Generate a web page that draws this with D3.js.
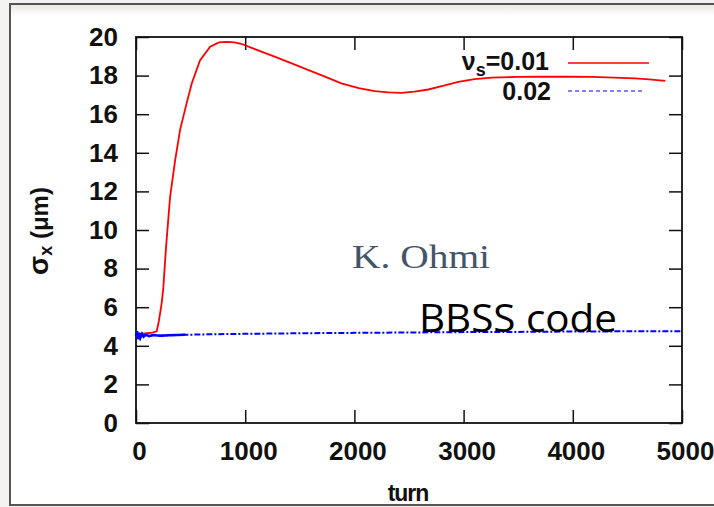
<!DOCTYPE html>
<html>
<head>
<meta charset="utf-8">
<script src="https://cdn.jsdelivr.net/npm/d3@7"></script>
<style>
  html, body { margin: 0; padding: 0; background: #f4f3f1; }
  svg { display: block; }
</style>
</head>
<body>
<div id="chart"></div>
<script>
// sigma_x vs turn, nu_s = 0.01 (red) and 0.02 (blue)
var turnsA = [0, 50, 100, 150, 190, 210, 235, 250, 275, 312, 358, 404, 465, 511, 587, 679, 760, 832, 900, 963,
    1100, 1269, 1420, 1575, 1730, 1881, 2040, 2187, 2310, 2431, 2550, 2676, 2810, 2951, 3100, 3257,
    3490, 3716, 3950, 4174, 4380, 4572, 4700, 4847];
var sigmaA = [4.55, 4.62, 4.65, 4.68, 4.75, 5.3, 6.2, 7.0, 9.1, 11.7, 13.6, 15.2, 16.6, 17.6, 18.8, 19.5, 19.72, 19.75, 19.72, 19.65,
    19.35, 18.98, 18.65, 18.3, 17.95, 17.6, 17.35, 17.2, 17.13, 17.11, 17.17, 17.28, 17.47, 17.68, 17.82, 17.89,
    17.93, 17.94, 17.94, 17.93, 17.9, 17.86, 17.8, 17.73];

var turnsB = [0, 10, 20, 30, 40, 55, 70, 90, 120, 160, 220, 300, 450, 700, 1000, 1500, 2000, 2500, 3000, 3500, 4000, 4500, 5000];
var sigmaB = [4.5, 4.75, 4.35, 4.68, 4.42, 4.62, 4.47, 4.58, 4.5, 4.56, 4.52, 4.55, 4.57, 4.6, 4.62, 4.65, 4.67, 4.69, 4.71, 4.72, 4.74, 4.75, 4.76];

var xTicks = [0, 1000, 2000, 3000, 4000, 5000];
var yTicks = [0, 2, 4, 6, 8, 10, 12, 14, 16, 18, 20];
var legendLabels = ["=0.01", "0.02"];

var width = 714, height = 507;
var plot = { left: 136, right: 682, top: 37, bottom: 423 };

var svg = d3.select("#chart").append("svg")
    .attr("width", width)
    .attr("height", height);

var defs = svg.append("defs");
var grad = defs.append("linearGradient").attr("id", "topshade")
    .attr("x1", 0).attr("y1", 0).attr("x2", 0).attr("y2", 1);
grad.append("stop").attr("offset", "0%").attr("stop-color", "#ebe8e2");
grad.append("stop").attr("offset", "100%").attr("stop-color", "#ffffff");

// slide frame
svg.append("rect")
    .attr("x", 10).attr("y", 4)
    .attr("width", width).attr("height", 501)
    .attr("fill", "#ffffff")
    .attr("stroke", "#555")
    .attr("stroke-width", 2);
svg.append("rect")
    .attr("x", 11).attr("y", 5)
    .attr("width", width).attr("height", 11)
    .attr("fill", "url(#topshade)");

var x = d3.scaleLinear().domain([0, 5000]).range([plot.left, plot.right]);
var y = d3.scaleLinear().domain([0, 20]).range([plot.bottom, plot.top]);

var font = "'Liberation Sans', Arial, sans-serif";

// axes, ticks point inward
svg.append("g")
    .attr("transform", "translate(3," + plot.bottom + ")")
    .call(d3.axisBottom(x).tickValues(xTicks).tickSize(0).tickPadding(19).tickFormat(d3.format("d")));
svg.append("g")
    .attr("transform", "translate(0," + plot.bottom + ")")
    .call(d3.axisBottom(x).tickValues(xTicks).tickSize(-13).tickFormat(""));
svg.append("g")
    .attr("transform", "translate(0," + plot.top + ")")
    .call(d3.axisTop(x).tickValues(xTicks).tickSize(-13).tickFormat(""));
svg.append("g")
    .attr("transform", "translate(" + plot.left + ",0)")
    .call(d3.axisLeft(y).tickValues(yTicks).tickSize(-13).tickPadding(18).tickFormat(d3.format("d")));
svg.append("g")
    .attr("transform", "translate(" + plot.right + ",0)")
    .call(d3.axisRight(y).tickValues(yTicks).tickSize(-13).tickFormat(""));

svg.selectAll(".domain").remove();
svg.selectAll(".tick line").attr("stroke", "#111").attr("stroke-width", 1.5);
svg.selectAll(".tick text")
    .attr("fill", "#111")
    .style("font-family", font)
    .style("font-weight", "bold")
    .style("font-size", "26px");

svg.append("rect")
    .attr("x", plot.left).attr("y", plot.top)
    .attr("width", plot.right - plot.left).attr("height", plot.bottom - plot.top)
    .attr("fill", "none")
    .attr("stroke", "#111")
    .attr("stroke-width", 1.8);

// series
var dataA = turnsA.map(function (t, i) { return [t, sigmaA[i]]; });
var dataB = turnsB.map(function (t, i) { return [t, sigmaB[i]]; });
var line = d3.line()
    .x(function (d) { return x(d[0]); })
    .y(function (d) { return y(d[1]); });

svg.append("path")
    .attr("d", line(dataA))
    .attr("fill", "none")
    .attr("stroke", "#ff0000")
    .attr("stroke-width", 1.8);

svg.append("path")
    .attr("d", line(dataB.filter(function (d) { return d[0] <= 450; })))
    .attr("fill", "none")
    .attr("stroke", "#0000ff")
    .attr("stroke-width", 2.4);
svg.append("path")
    .attr("d", line(dataB))
    .attr("fill", "none")
    .attr("stroke", "#0000ff")
    .attr("stroke-width", 2)
    .attr("stroke-dasharray", "6,2,2,2");

// legend
var leg1 = svg.append("text")
    .attr("x", 549).attr("y", 70)
    .attr("text-anchor", "end")
    .style("font-family", font).style("font-weight", "bold").style("font-size", "25px")
    .attr("fill", "#111");
leg1.append("tspan").text("\u03bd");
leg1.append("tspan").attr("dy", 6).style("font-size", "18px").text("s");
leg1.append("tspan").attr("dy", -6).text(legendLabels[0]);
svg.append("line")
    .attr("x1", 568).attr("x2", 649).attr("y1", 63).attr("y2", 63)
    .attr("stroke", "#ff0000").attr("stroke-width", 1.3);

svg.append("text")
    .attr("x", 551).attr("y", 100)
    .attr("text-anchor", "end")
    .style("font-family", font).style("font-weight", "bold").style("font-size", "25px")
    .attr("fill", "#111")
    .text(legendLabels[1]);
svg.append("line")
    .attr("x1", 568).attr("x2", 645).attr("y1", 91).attr("y2", 91)
    .attr("stroke", "#0000ff").attr("stroke-width", 1.2)
    .attr("stroke-dasharray", "4,3");

// axis titles
svg.append("text")
    .attr("x", 408).attr("y", 501)
    .attr("text-anchor", "middle")
    .style("font-family", font).style("font-weight", "bold").style("font-size", "23px")
    .style("letter-spacing", "-1px")
    .attr("fill", "#111")
    .text("turn");

var yl = svg.append("text")
    .attr("transform", "translate(48,231) rotate(-90)")
    .attr("text-anchor", "middle")
    .style("font-family", font).style("font-weight", "bold").style("font-size", "24px")
    .attr("fill", "#111");
yl.append("tspan").style("font-size", "28px").text("\u03c3");
yl.append("tspan").attr("dy", 4).style("font-size", "18px").text("x");
yl.append("tspan").attr("dy", -4).text(" (\u03bcm)");

// annotations
svg.append("text")
    .attr("x", 352).attr("y", 268)
    .attr("textLength", 138).attr("lengthAdjust", "spacingAndGlyphs")
    .style("font-family", "'Liberation Serif', 'Times New Roman', serif")
    .style("font-size", "34px")
    .attr("fill", "#44546a")
    .text("K. Ohmi");

svg.append("text")
    .attr("x", 419).attr("y", 332)
    .attr("textLength", 198).attr("lengthAdjust", "spacingAndGlyphs")
    .style("font-family", "'Open Sans', 'Noto Sans', sans-serif")
    .style("font-size", "38px")
    .attr("fill", "#000")
    .text("BBSS code");
</script>
</body>
</html>
